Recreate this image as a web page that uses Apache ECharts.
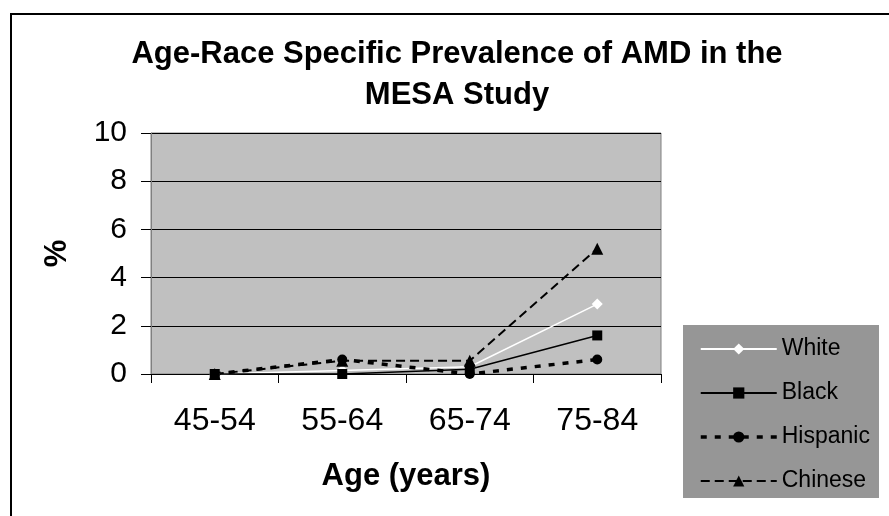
<!DOCTYPE html>
<html><head><meta charset="utf-8">
<script src="https://cdn.jsdelivr.net/npm/echarts@6/dist/echarts.min.js"></script>
<style>html,body{margin:0;padding:0;background:#fff}#c{width:889px;height:516px}</style>
</head><body><div id="c"></div>
<script>
const categories = ['45-54', '55-64', '65-74', '75-84'];
const whiteValues = [0, 0.15, 0.3, 2.9];
const blackValues = [0, 0, 0.2, 1.6];
const hispanicValues = [0, 0.6, 0, 0.6];
const chineseValues = [0, 0.55, 0.55, 5.2];
const seriesNames = ['White', 'Black', 'Hispanic', 'Chinese'];
const titleLines = ['Age-Race Specific Prevalence of AMD in the', 'MESA Study'];
const yMin = 0, yMax = 10, yInterval = 2;

const FONT = 'Liberation Sans, Arial, sans-serif';
const chart = echarts.init(document.getElementById('c'), null, {renderer: 'canvas'});
chart.setOption({
  backgroundColor: '#ffffff',
  animation: false,
  graphic: [
    {type: 'rect', shape: {x: 11, y: 14, width: 900, height: 600}, style: {fill: 'none', stroke: '#000', lineWidth: 2}, z: 0},
    {type: 'rect', shape: {x: 683, y: 325, width: 196, height: 173}, style: {fill: '#969696', stroke: 'none'}, z: 0},
    {type: 'text', style: {text: titleLines[0], x: 457, y: 54, textAlign: 'center', textVerticalAlign: 'middle', font: 'bold 31px ' + FONT, fill: '#000'}},
    {type: 'text', style: {text: titleLines[1], x: 457, y: 95, textAlign: 'center', textVerticalAlign: 'middle', font: 'bold 31px ' + FONT, fill: '#000'}}
  ],
  grid: {left: 151, top: 133, width: 510, height: 241, show: true, backgroundColor: '#c0c0c0', borderColor: '#808080', borderWidth: 1},
  legend: {
    orient: 'vertical', left: 699, top: 337, padding: 0, itemWidth: 76, itemHeight: 14, itemGap: 20,
    data: [
      {name: seriesNames[0]},
      {name: seriesNames[1]},
      {name: seriesNames[2], lineStyle: {width: 3.5, type: [6, 8]}},
      {name: seriesNames[3], lineStyle: {width: 2, type: [9, 5]}}
    ],
    textStyle: {fontSize: 23, lineHeight: 24, color: '#000', fontFamily: FONT}
  },
  xAxis: {
    type: 'category', data: categories, boundaryGap: true,
    name: 'Age (years)', nameLocation: 'middle', nameGap: 87,
    nameTextStyle: {fontSize: 31, fontWeight: 'bold', color: '#000', fontFamily: FONT},
    axisLine: {lineStyle: {color: '#000', width: 1}},
    axisTick: {show: true, length: 9, lineStyle: {color: '#000'}, alignWithLabel: false},
    axisLabel: {fontSize: 32, color: '#000', fontFamily: FONT, margin: 31}
  },
  yAxis: {
    type: 'value', min: yMin, max: yMax, interval: yInterval,
    name: '%', nameLocation: 'middle', nameGap: 78, nameRotate: 90,
    nameTextStyle: {fontSize: 31, fontWeight: 'bold', color: '#000', fontFamily: FONT},
    axisLine: {show: true, lineStyle: {color: '#808080', width: 1}},
    axisTick: {show: true, length: 10, lineStyle: {color: '#000'}},
    axisLabel: {fontSize: 30, color: '#000', fontFamily: FONT, margin: 24},
    splitLine: {show: true, lineStyle: {color: '#000', width: 1}}
  },
  series: [
    {name: 'White', type: 'line', data: whiteValues, symbol: 'diamond', symbolSize: 11,
     itemStyle: {color: '#ffffff'}, lineStyle: {color: '#ffffff', width: 1.5, type: 'solid'}},
    {name: 'Black', type: 'line', data: blackValues, symbol: 'rect', symbolSize: 10,
     itemStyle: {color: '#000000'}, lineStyle: {color: '#000000', width: 1.5, type: 'solid'}},
    {name: 'Hispanic', type: 'line', data: hispanicValues, symbol: 'circle', symbolSize: 10,
     itemStyle: {color: '#000000'}, lineStyle: {color: '#000000', width: 3.5, type: [6, 8]}},
    {name: 'Chinese', type: 'line', data: chineseValues, symbol: 'triangle', symbolSize: 12,
     itemStyle: {color: '#000000'}, lineStyle: {color: '#000000', width: 2, type: [9, 5]}}
  ]
});
</script></body></html>
